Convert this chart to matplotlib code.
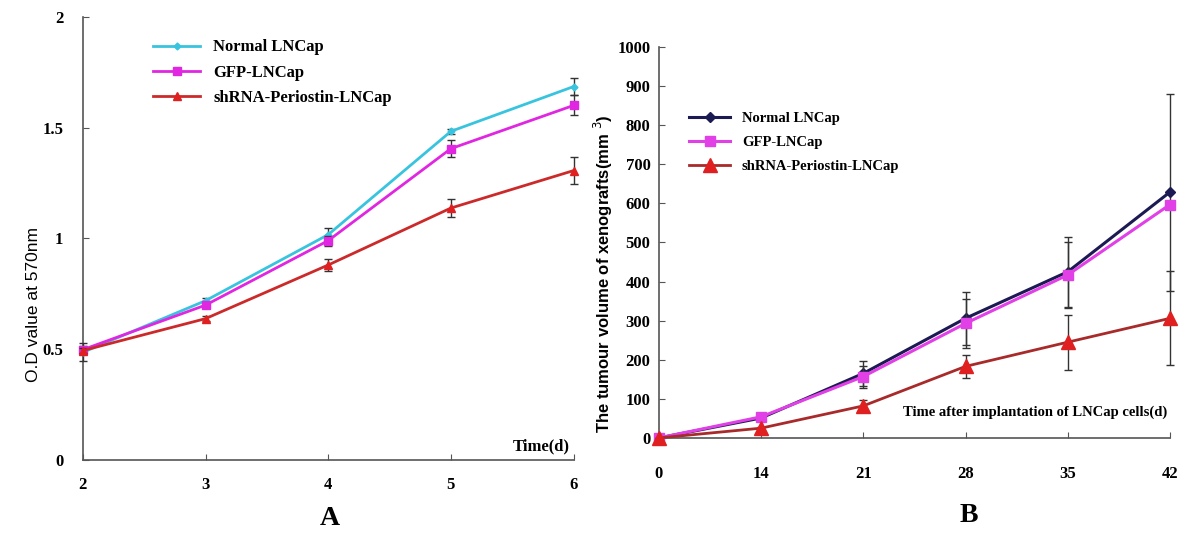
import matplotlib
matplotlib.use("Agg")
import matplotlib.pyplot as plt
import numpy as np

# ---- Panel A data ----
days_a = [2, 3, 4, 5, 6]
normal_a = [0.486, 0.719, 1.017, 1.483, 1.685]
normal_a_err = [0.04, 0.012, 0.028, 0.01, 0.04]
gfp_a = [0.498, 0.699, 0.99, 1.405, 1.60]
gfp_a_err = [0.015, 0.015, 0.022, 0.038, 0.045]
sh_a = [0.494, 0.638, 0.88, 1.137, 1.306]
sh_a_err = [0.01, 0.01, 0.025, 0.04, 0.06]

# ---- Panel B data ----
days_b = ["0", "14", "21", "28", "35", "42"]
normal_b = [0, 51, 165, 306, 425, 629]
normal_b_err = [0, 5, 33, 68, 90, 252]
gfp_b = [0, 54, 157, 293, 417, 597]
gfp_b_err = [0, 5, 28, 62, 84, 0]
sh_b = [0, 25, 82, 183, 245, 306]
sh_b_err = [0, 4, 14, 29, 70, 120]

labels = ["Normal LNCap", "GFP-LNCap", "shRNA-Periostin-LNCap"]

serif = "Liberation Serif"
fig = plt.figure(figsize=(12, 5.4), dpi=100)


def style_axes(ax, xpad, ypad):
    for s in ["top", "right"]:
        ax.spines[s].set_visible(False)
    for s in ["left", "bottom"]:
        ax.spines[s].set_color("#555555")
        ax.spines[s].set_linewidth(1.2)
    ax.tick_params(axis="both", direction="in", length=4, color="#555555")
    ax.tick_params(axis="x", pad=xpad)
    ax.tick_params(axis="y", pad=ypad)
    for t in ax.get_xticklabels() + ax.get_yticklabels():
        t.set_fontfamily(serif)
        t.set_fontweight("bold")
        t.set_fontsize(12)


# ---------------- Panel A ----------------
axA = fig.add_axes([0.069, 0.148, 0.409, 0.821])
xa = np.array(days_a)
eA = []
eA.append(axA.errorbar(xa, normal_a, yerr=normal_a_err, color="#38C4DE", lw=2, marker="D", ms=3.5,
                       ecolor="#333333", elinewidth=1, capsize=3, zorder=3, clip_on=False))
eA.append(axA.errorbar(xa, gfp_a, yerr=gfp_a_err, color="#E026E0", lw=2, marker="s", ms=6,
                       ecolor="#333333", elinewidth=1, capsize=3, zorder=4, clip_on=False))
eA.append(axA.errorbar(xa, sh_a, yerr=sh_a_err, color="#CC2A2A", lw=2, marker="^", ms=6,
                       mfc="#E02020", mec="#E02020",
                       ecolor="#333333", elinewidth=1, capsize=3, zorder=5, clip_on=False))
axA.set_xlim(2, 6)
axA.set_ylim(0, 2)
axA.set_xticks(days_a)
axA.set_yticks([0, 0.5, 1, 1.5, 2])
axA.set_yticklabels(["0", "0.5", "1", "1.5", "2"])
style_axes(axA, 12, 14)
axA.set_ylabel("O.D value at 570nm", fontfamily="Liberation Sans", fontsize=12.5)
axA.yaxis.set_label_coords(-0.085, 0.35)
axA.text(5.97, 0.06, "Time(d)", fontfamily=serif, fontweight="bold", fontsize=12,
         ha="right", va="center")
axA.legend([e[0] for e in eA], labels, loc="upper left", bbox_to_anchor=(0.12, 0.975),
           frameon=False, prop={"family": serif, "weight": "bold", "size": 12},
           handlelength=2.8, labelspacing=0.55, borderaxespad=0.3)
fig.text(0.275, 0.04, "A", fontfamily=serif, fontweight="bold", fontsize=20,
         ha="center", va="center")

# ---------------- Panel B ----------------
axB = fig.add_axes([0.549, 0.189, 0.426, 0.724])
xb = np.arange(len(days_b))
eB = []
eB.append(axB.errorbar(xb, normal_b, yerr=normal_b_err, color="#1C1A52", lw=2.2, marker="D", ms=5,
                       ecolor="#333333", elinewidth=1, capsize=3, zorder=3, clip_on=False))
eB.append(axB.errorbar(xb, gfp_b, yerr=gfp_b_err, color="#E040E6", lw=2.2, marker="s", ms=7,
                       ecolor="#333333", elinewidth=1, capsize=3, zorder=4, clip_on=False))
eB.append(axB.errorbar(xb, sh_b, yerr=sh_b_err, color="#A82A2A", lw=2, marker="^", ms=10,
                       mfc="#E02020", mec="#E02020",
                       ecolor="#333333", elinewidth=1, capsize=3, zorder=5, clip_on=False))
axB.set_xlim(0, len(days_b) - 1)
axB.set_ylim(0, 1000)
axB.set_xticks(xb)
axB.set_xticklabels(days_b)
axB.set_yticks(range(0, 1001, 100))
style_axes(axB, 20, 6)
axB.set_ylabel("The tumour volume of xenografts(mm $^{3}$)", fontfamily="Liberation Sans",
               fontweight="bold", fontsize=12)
axB.yaxis.set_label_coords(-0.085, 0.42)
axB.text(4.97, 66, "Time after implantation of LNCap cells(d)", fontfamily=serif,
         fontweight="bold", fontsize=10.5, ha="right", va="center")
axB.legend([e[0] for e in eB], labels, loc="upper left", bbox_to_anchor=(0.04, 0.86),
           frameon=False, prop={"family": serif, "weight": "bold", "size": 10.5},
           handlelength=2.8, labelspacing=0.75, borderaxespad=0.3)
fig.text(0.807, 0.045, "B", fontfamily=serif, fontweight="bold", fontsize=20,
         ha="center", va="center")

fig.savefig("out.png", dpi=100, facecolor="white")
